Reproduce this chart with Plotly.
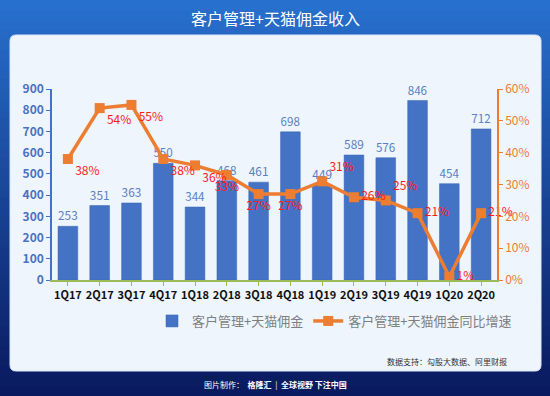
import plotly.graph_objects as go

quarters = ["1Q17", "2Q17", "3Q17", "4Q17", "1Q18", "2Q18", "3Q18", "4Q18",
            "1Q19", "2Q19", "3Q19", "4Q19", "1Q20", "2Q20"]
revenue = [253, 351, 363, 550, 344, 468, 461, 698, 449, 589, 576, 846, 454, 712]
growth = [38, 54, 55, 38, 36, 33, 27, 27, 31, 26, 25, 21, 1, 21]
growth_pos = ["bottom right", "bottom right", "bottom right", "bottom right", "bottom right",
              "bottom center", "bottom center", "bottom center", "top right", "middle right",
              "top right", "middle right", "middle right", "middle right"]

FONT = "Noto Sans CJK SC"
W, H = 550, 396
ML, MR, MT, MB = 52, 53, 89, 116
PW, PH = W - ML - MR, H - MT - MB

def px_x(x):
    return (x - ML) / PW

def px_y(y):
    return (H - MB - y) / PH

fig = go.Figure()
fig.add_trace(go.Bar(
    x=quarters, y=revenue, name="客户管理+天猫佣金",
    marker=dict(color="#4472C4", line=dict(color="#3a64b0", width=0.5)),
    width=0.62,
    text=[str(v) for v in revenue], textposition="outside",
    textfont=dict(color="#5b7fc4", size=12, family=FONT),
    cliponaxis=False,
))
fig.add_trace(go.Scatter(
    x=quarters, y=[g / 100 for g in growth], name="客户管理+天猫佣金同比增速",
    yaxis="y2", mode="lines+markers+text",
    line=dict(color="#ED7D31", width=3.5),
    marker=dict(symbol="square", size=10, color="#ED7D31"),
    text=[f"{g}%" for g in growth], textposition=growth_pos,
    textfont=dict(color="#ff1a1a", size=12, family=FONT),
    cliponaxis=False,
))

shapes = []
# background gradient stripes
top = (40, 112, 205)
bot = (10, 26, 96)
n = 40
for i in range(n):
    t = i / (n - 1)
    c = tuple(int(top[k] + (bot[k] - top[k]) * t) for k in range(3))
    y0 = i * H / n
    y1 = (i + 1) * H / n + 1
    shapes.append(dict(type="rect", xref="paper", yref="paper",
                       x0=px_x(0), x1=px_x(W), y0=px_y(y1), y1=px_y(y0),
                       fillcolor=f"rgb{c}", line=dict(width=0), layer="below"))
# panel with rounded corners
x0, x1, y0, y1, r = 10, 541, 35, 371, 6
path = (f"M {px_x(x0+r)},{px_y(y0)} L {px_x(x1-r)},{px_y(y0)} "
        f"Q {px_x(x1)},{px_y(y0)} {px_x(x1)},{px_y(y0+r)} "
        f"L {px_x(x1)},{px_y(y1-r)} Q {px_x(x1)},{px_y(y1)} {px_x(x1-r)},{px_y(y1)} "
        f"L {px_x(x0+r)},{px_y(y1)} Q {px_x(x0)},{px_y(y1)} {px_x(x0)},{px_y(y1-r)} "
        f"L {px_x(x0)},{px_y(y0+r)} Q {px_x(x0)},{px_y(y0)} {px_x(x0+r)},{px_y(y0)} Z")
shapes.append(dict(type="path", xref="paper", yref="paper", path=path,
                   fillcolor="#eef5fd", line=dict(color="#dbe8f8", width=1), layer="below"))

annotations = [
    dict(text="客户管理+天猫佣金收入", xref="paper", yref="paper",
         x=px_x(W / 2), y=px_y(18), xanchor="center", yanchor="middle", showarrow=False,
         font=dict(color="white", size=16, family=FONT)),
    dict(text="数据支持：勾股大数据、阿里财报", xref="paper", yref="paper",
         x=px_x(509), y=px_y(361), xanchor="right", yanchor="middle", showarrow=False,
         font=dict(color="#333333", size=8, family=FONT)),
    dict(text="图片制作：  <b>格隆汇</b>  |  <b>全球视野 下注中国</b>", xref="paper", yref="paper",
         x=px_x(W / 2), y=px_y(384), xanchor="center", yanchor="middle", showarrow=False,
         font=dict(color="white", size=8, family=FONT)),
]

fig.update_layout(
    width=W, height=H,
    margin=dict(l=ML, r=MR, t=MT, b=MB, pad=0),
    paper_bgcolor="#0d2f88", plot_bgcolor="rgba(0,0,0,0)",
    font=dict(family=FONT),
    showlegend=True,
    legend=dict(orientation="h", x=px_x(152), y=px_y(306), xanchor="left", yanchor="top",
                font=dict(color="#7f7f7f", size=13, family=FONT),
                bgcolor="rgba(0,0,0,0)", itemwidth=30, tracegroupgap=0),
    bargap=0.38,
    xaxis=dict(showgrid=False, showline=True, linecolor="#9bbb59", linewidth=1.5,
               ticks="outside", tickcolor="#9bbb59", ticklen=4,
               tickfont=dict(color="#111111", size=11, family=FONT, weight="bold"),
               range=[-0.5, 13.5], fixedrange=True),
    yaxis=dict(range=[0, 900], dtick=100, showgrid=False, showline=True,
               linecolor="#4472C4", linewidth=1.5, ticks="outside", tickcolor="#4472C4",
               ticklen=4, zeroline=False,
               tickfont=dict(color="#4a72c0", size=12, family=FONT, weight="bold")),
    yaxis2=dict(range=[0, 0.6], dtick=0.1, tickformat=".0%", overlaying="y", side="right",
                showgrid=False, showline=True, linecolor="#ED7D31", linewidth=1.5,
                ticks="outside", tickcolor="#ED7D31", ticklen=4, zeroline=False,
                tickfont=dict(color="#ED7D31", size=12, family=FONT)),
    shapes=shapes,
    annotations=annotations,
)

fig.write_html("out.html", config={"displayModeBar": False},
               post_script="document.body.style.margin='0';document.body.style.overflow='hidden';")
